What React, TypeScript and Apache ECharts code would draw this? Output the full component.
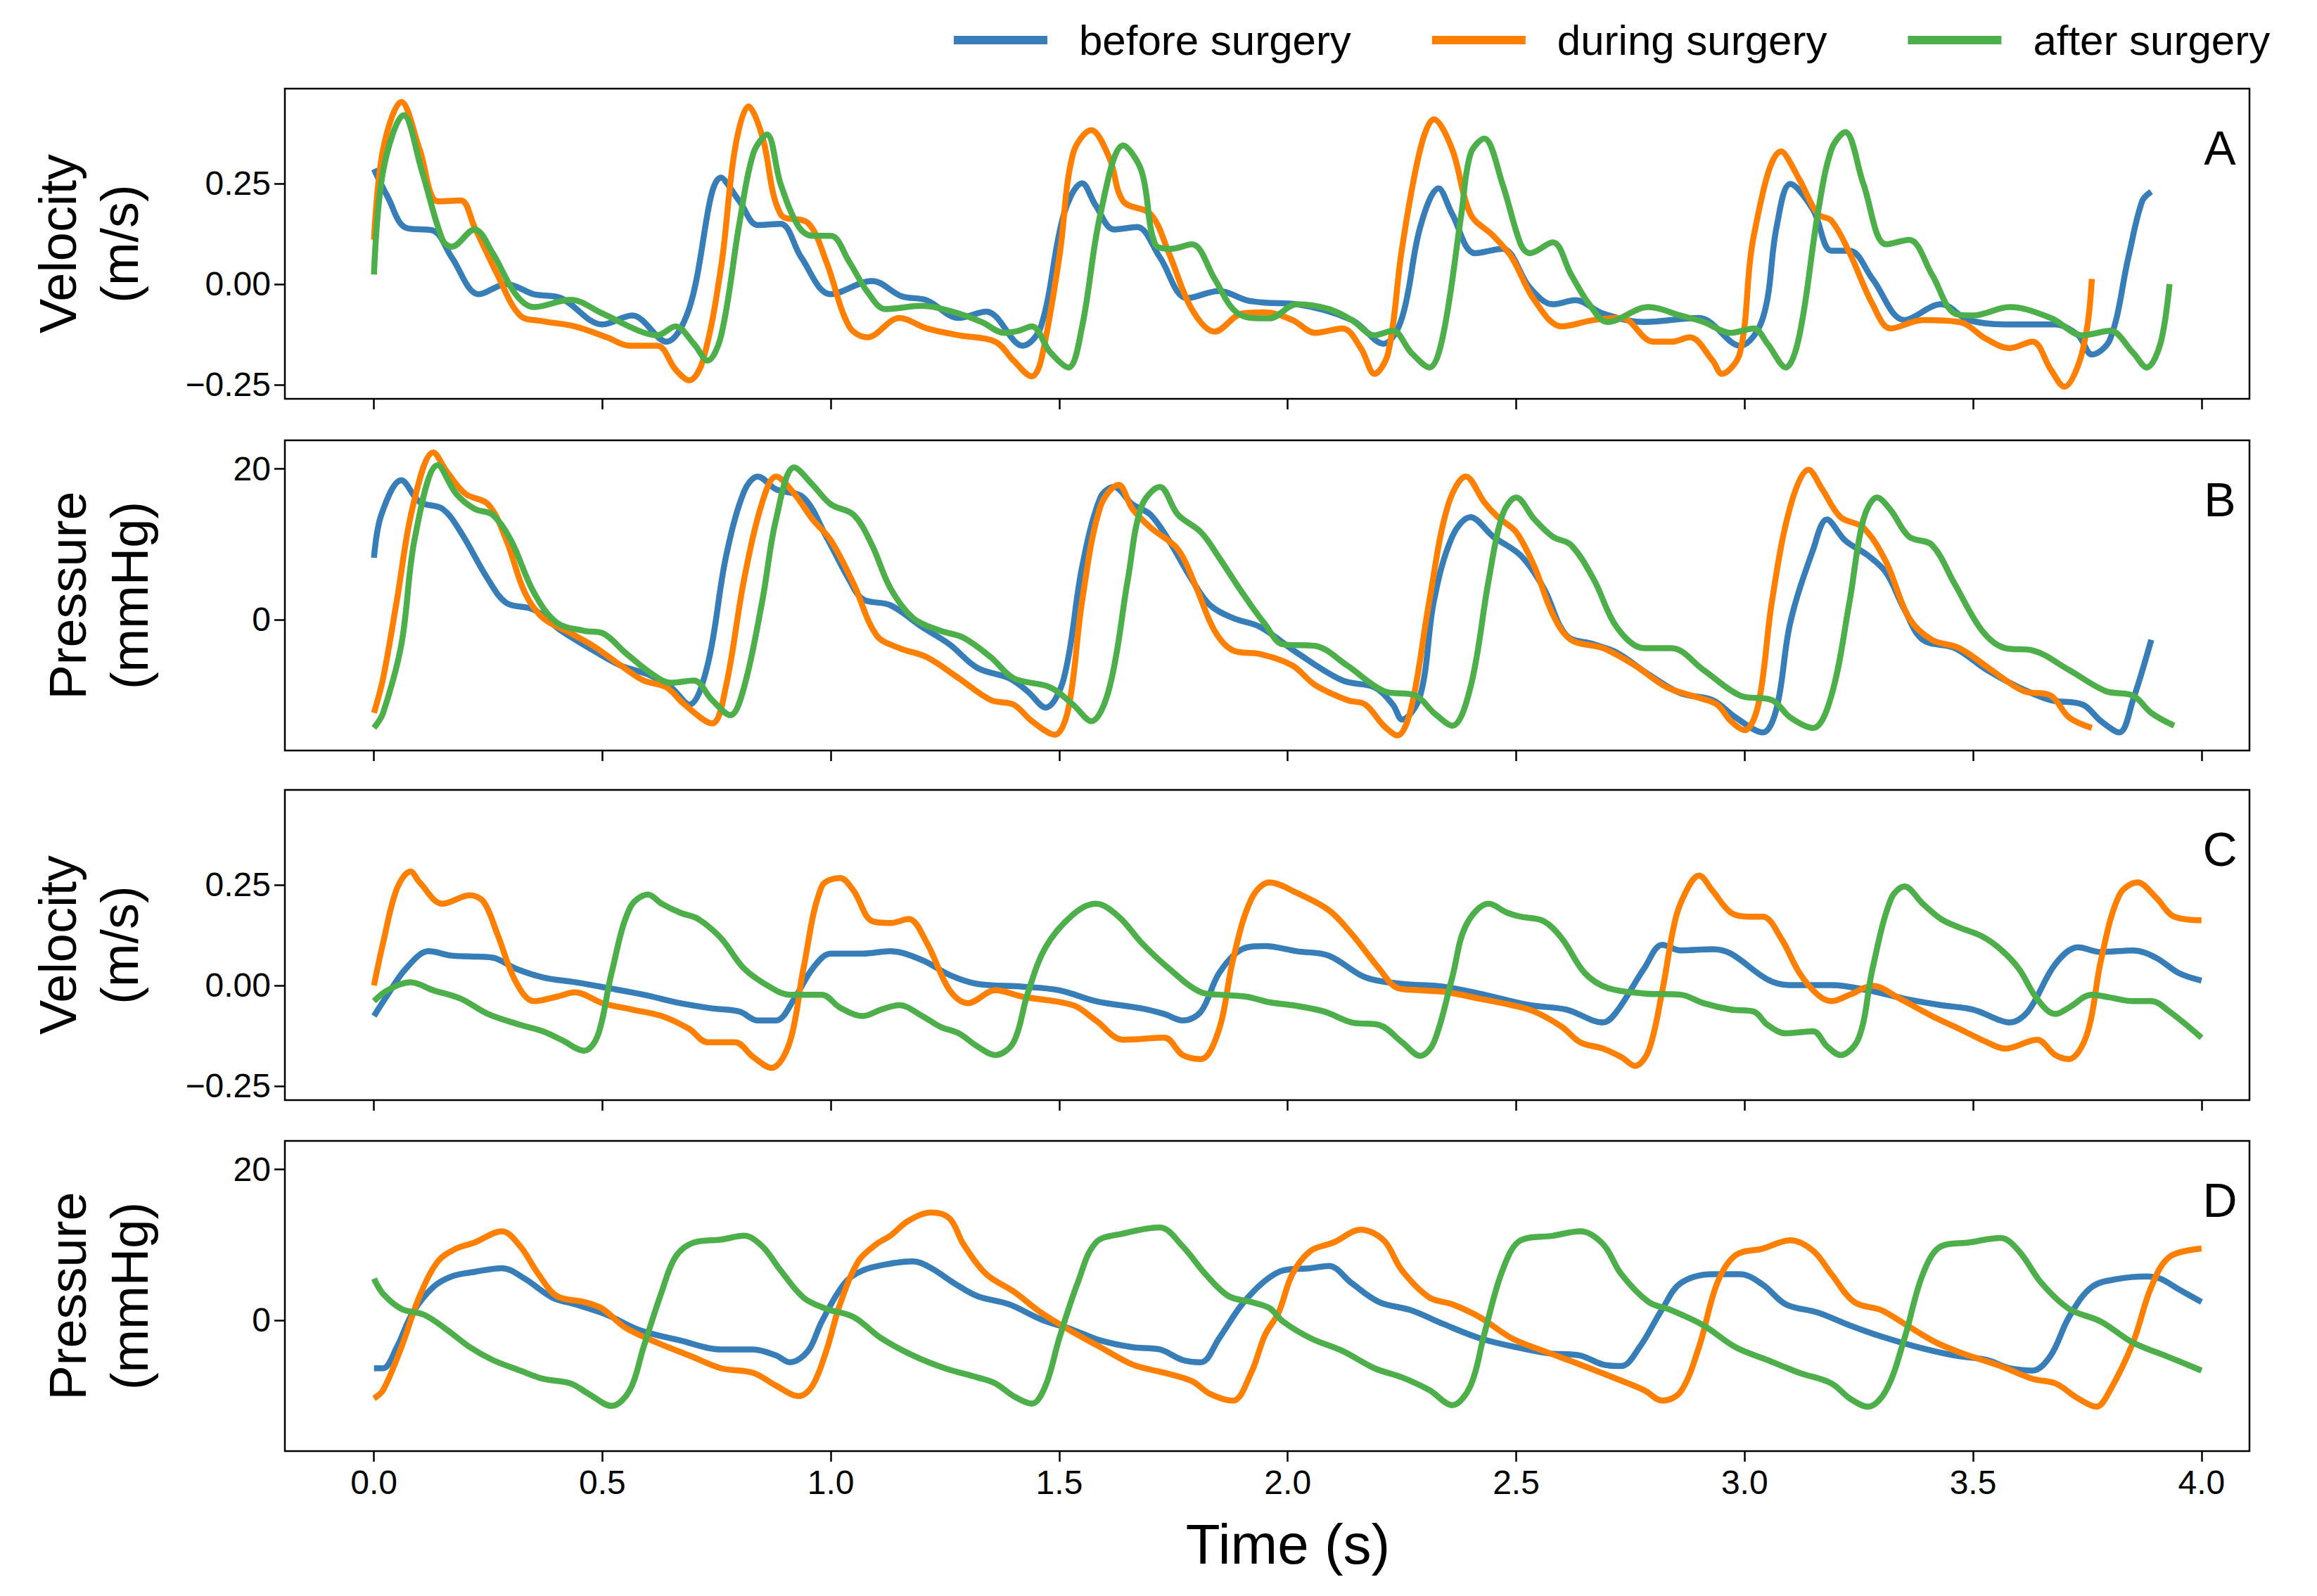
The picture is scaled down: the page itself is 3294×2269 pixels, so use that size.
import React, { useEffect, useRef } from "react";
import * as echarts from "echarts";

const seriesNames = ["before surgery", "during surgery", "after surgery"];
const colors = ["#377eb8", "#ff7f00", "#4daf4a"];
const panelLetters = ["A", "B", "C", "D"];
const xTicks = [0, 0.5, 1, 1.5, 2, 2.5, 3, 3.5, 4];
const velTicks = [-0.25, 0, 0.25];
const presTicks = [0, 20];

const aBefore = [[0,0.286],[0.03,0.217],[0.07,0.14],[0.13,0.133],[0.17,0.067],[0.23,-0.025],[0.29,0.0],[0.35,-0.025],[0.41,-0.035],[0.5,-0.1],[0.565,-0.078],[0.64,-0.143],[0.69,-0.06],[0.76,0.265],[0.8,0.206],[0.84,0.147],[0.89,0.15],[0.935,0.067],[1.0,-0.025],[1.09,0.008],[1.155,-0.03],[1.21,-0.04],[1.28,-0.084],[1.34,-0.068],[1.42,-0.153],[1.46,-0.105],[1.51,0.174],[1.55,0.251],[1.58,0.195],[1.62,0.136],[1.67,0.142],[1.72,0.067],[1.78,-0.035],[1.85,-0.017],[1.91,-0.04],[1.95,-0.046],[2.02,-0.05],[2.14,-0.089],[2.21,-0.148],[2.25,-0.084],[2.29,0.142],[2.33,0.238],[2.36,0.174],[2.41,0.077],[2.47,0.088],[2.53,-0.009],[2.58,-0.05],[2.63,-0.04],[2.69,-0.073],[2.78,-0.094],[2.9,-0.084],[2.99,-0.153],[3.04,-0.084],[3.07,0.142],[3.1,0.249],[3.15,0.185],[3.19,0.083],[3.23,0.083],[3.28,0.013],[3.35,-0.089],[3.43,-0.05],[3.49,-0.089],[3.57,-0.1],[3.68,-0.1],[3.73,-0.127],[3.76,-0.175],[3.8,-0.137],[3.84,0.067],[3.87,0.206],[3.89,0.23]];
const aDuring = [[0,0.11],[0.02,0.335],[0.06,0.453],[0.1,0.335],[0.14,0.206],[0.19,0.208],[0.22,0.142],[0.27,0.024],[0.32,-0.078],[0.37,-0.092],[0.44,-0.105],[0.51,-0.132],[0.56,-0.153],[0.62,-0.153],[0.66,-0.212],[0.69,-0.239],[0.72,-0.19],[0.76,0.045],[0.79,0.335],[0.82,0.442],[0.85,0.367],[0.89,0.174],[0.95,0.152],[0.99,0.056],[1.04,-0.105],[1.08,-0.132],[1.15,-0.084],[1.21,-0.11],[1.28,-0.127],[1.36,-0.143],[1.4,-0.19],[1.44,-0.229],[1.46,-0.19],[1.5,0.067],[1.53,0.324],[1.57,0.383],[1.61,0.313],[1.64,0.206],[1.7,0.174],[1.74,0.077],[1.79,-0.062],[1.84,-0.118],[1.9,-0.073],[1.95,-0.07],[2.01,-0.089],[2.06,-0.121],[2.12,-0.11],[2.16,-0.159],[2.19,-0.223],[2.22,-0.17],[2.25,0.088],[2.29,0.335],[2.32,0.41],[2.36,0.335],[2.4,0.174],[2.45,0.12],[2.49,0.067],[2.54,-0.04],[2.6,-0.105],[2.67,-0.089],[2.73,-0.084],[2.8,-0.143],[2.84,-0.143],[2.88,-0.132],[2.93,-0.19],[2.95,-0.223],[2.99,-0.17],[3.02,0.12],[3.08,0.33],[3.12,0.26],[3.16,0.174],[3.19,0.158],[3.23,0.077],[3.28,-0.05],[3.32,-0.11],[3.39,-0.089],[3.47,-0.094],[3.53,-0.137],[3.58,-0.159],[3.63,-0.143],[3.67,-0.212],[3.7,-0.255],[3.73,-0.202],[3.75,-0.105],[3.76,0.013]];
const aAfter = [[0,0.024],[0.02,0.281],[0.065,0.42],[0.105,0.281],[0.15,0.11],[0.17,0.093],[0.22,0.136],[0.26,0.077],[0.31,-0.025],[0.35,-0.057],[0.43,-0.039],[0.5,-0.073],[0.58,-0.116],[0.62,-0.127],[0.66,-0.105],[0.7,-0.148],[0.73,-0.19],[0.76,-0.127],[0.8,0.152],[0.83,0.324],[0.86,0.372],[0.89,0.249],[0.93,0.142],[0.96,0.12],[1.0,0.12],[1.04,0.056],[1.08,-0.019],[1.12,-0.062],[1.2,-0.054],[1.265,-0.068],[1.33,-0.094],[1.38,-0.121],[1.41,-0.116],[1.44,-0.105],[1.48,-0.169],[1.52,-0.207],[1.55,-0.105],[1.59,0.174],[1.64,0.345],[1.68,0.281],[1.71,0.099],[1.745,0.088],[1.79,0.099],[1.84,0.013],[1.88,-0.062],[1.92,-0.084],[1.96,-0.085],[2.02,-0.05],[2.09,-0.062],[2.14,-0.089],[2.19,-0.127],[2.23,-0.116],[2.27,-0.17],[2.31,-0.207],[2.34,-0.127],[2.38,0.174],[2.4,0.324],[2.43,0.362],[2.47,0.249],[2.51,0.099],[2.53,0.077],[2.58,0.104],[2.62,0.024],[2.66,-0.05],[2.7,-0.094],[2.79,-0.057],[2.86,-0.078],[2.91,-0.094],[2.97,-0.121],[3.02,-0.11],[3.05,-0.148],[3.09,-0.207],[3.12,-0.127],[3.16,0.174],[3.19,0.335],[3.22,0.378],[3.26,0.249],[3.31,0.099],[3.36,0.11],[3.41,0.024],[3.46,-0.073],[3.5,-0.078],[3.58,-0.057],[3.67,-0.084],[3.74,-0.127],[3.8,-0.116],[3.85,-0.17],[3.88,-0.207],[3.91,-0.148],[3.93,0.0]];

const bBefore = [[0,8.2],[0.016,13.9],[0.06,18.5],[0.1,15.6],[0.15,14.7],[0.19,11.6],[0.25,5.3],[0.29,2.2],[0.35,1.3],[0.41,-1.5],[0.48,-4.1],[0.54,-6.1],[0.6,-7.3],[0.65,-9.0],[0.69,-11.3],[0.73,-6.1],[0.77,8.2],[0.81,17.0],[0.84,19.0],[0.88,17.3],[0.94,16.2],[0.99,11.0],[1.04,5.3],[1.07,2.7],[1.13,1.9],[1.2,-1.0],[1.26,-3.3],[1.32,-6.4],[1.39,-7.8],[1.43,-9.5],[1.47,-11.7],[1.51,-7.8],[1.55,7.0],[1.59,16.2],[1.62,17.6],[1.66,15.3],[1.7,13.9],[1.74,10.5],[1.79,5.3],[1.83,1.9],[1.88,0.2],[1.94,-1.0],[2.02,-4.4],[2.12,-8.1],[2.19,-9.0],[2.23,-11.3],[2.25,-13.3],[2.29,-10.1],[2.32,2.5],[2.36,11.0],[2.4,13.6],[2.45,11.0],[2.51,8.5],[2.56,4.2],[2.61,-2.1],[2.67,-3.3],[2.72,-4.4],[2.79,-7.3],[2.86,-9.8],[2.93,-10.7],[2.98,-13.0],[3.04,-15.0],[3.07,-11.8],[3.1,-0.4],[3.15,9.3],[3.18,13.3],[3.22,10.5],[3.27,8.5],[3.31,6.2],[3.35,1.3],[3.39,-2.7],[3.46,-3.8],[3.53,-6.7],[3.6,-9.0],[3.67,-10.7],[3.74,-11.3],[3.78,-13.5],[3.82,-15.0],[3.85,-10.7],[3.89,-2.7]];
const bDuring = [[0,-12.4],[0.02,-7.8],[0.05,2.5],[0.085,15.0],[0.13,22.2],[0.16,19.6],[0.2,16.7],[0.25,15.3],[0.29,10.5],[0.33,3.6],[0.37,0.2],[0.43,-1.8],[0.48,-3.5],[0.54,-6.1],[0.59,-8.1],[0.64,-9.0],[0.68,-11.3],[0.74,-13.8],[0.77,-9.0],[0.81,5.3],[0.85,15.6],[0.88,19.0],[0.92,16.7],[0.96,13.3],[1.0,10.5],[1.05,4.7],[1.1,-2.1],[1.15,-3.8],[1.21,-5.0],[1.28,-7.8],[1.35,-10.7],[1.4,-11.3],[1.44,-13.5],[1.49,-15.3],[1.52,-11.8],[1.55,2.5],[1.59,15.0],[1.63,17.9],[1.66,14.7],[1.7,12.2],[1.76,9.3],[1.8,4.2],[1.84,-1.5],[1.88,-4.1],[1.94,-4.6],[2.01,-6.1],[2.06,-8.7],[2.13,-10.7],[2.17,-11.3],[2.21,-14.1],[2.24,-15.4],[2.27,-11.8],[2.31,2.5],[2.35,15.0],[2.39,19.0],[2.43,15.6],[2.46,13.6],[2.5,11.6],[2.54,7.0],[2.58,0.7],[2.62,-2.7],[2.69,-3.8],[2.76,-6.1],[2.83,-9.0],[2.9,-10.4],[2.94,-11.3],[2.97,-13.5],[3.0,-14.7],[3.03,-11.3],[3.06,2.5],[3.1,15.0],[3.14,19.9],[3.17,17.3],[3.21,13.6],[3.26,12.2],[3.31,7.6],[3.36,0.2],[3.41,-2.7],[3.47,-3.8],[3.54,-6.7],[3.61,-9.5],[3.67,-10.1],[3.71,-13.0],[3.76,-14.4]];
const bAfter = [[0,-14.4],[0.02,-12.4],[0.06,-3.3],[0.09,11.0],[0.14,20.5],[0.18,16.7],[0.22,14.7],[0.26,13.9],[0.3,10.5],[0.35,3.6],[0.4,-0.4],[0.46,-1.5],[0.5,-1.8],[0.55,-4.4],[0.61,-7.3],[0.65,-8.4],[0.7,-8.1],[0.74,-10.7],[0.78,-12.7],[0.81,-9.0],[0.85,2.5],[0.88,13.3],[0.92,20.2],[0.96,17.9],[1.0,15.3],[1.05,13.9],[1.09,9.9],[1.13,4.2],[1.18,0.2],[1.24,-1.5],[1.29,-2.4],[1.35,-5.0],[1.4,-7.8],[1.48,-9.0],[1.53,-11.3],[1.57,-13.5],[1.61,-9.0],[1.65,5.3],[1.68,15.0],[1.72,17.6],[1.76,13.9],[1.81,11.6],[1.85,8.2],[1.9,3.6],[1.95,-0.6],[1.99,-3.3],[2.06,-3.5],[2.13,-6.1],[2.21,-9.5],[2.28,-10.1],[2.32,-12.4],[2.36,-14.1],[2.4,-9.0],[2.44,5.3],[2.47,13.9],[2.5,16.2],[2.54,13.3],[2.58,11.0],[2.62,9.9],[2.67,5.3],[2.72,-1.0],[2.78,-3.8],[2.84,-3.8],[2.91,-6.7],[2.99,-10.1],[3.06,-10.7],[3.1,-13.0],[3.15,-14.4],[3.19,-10.1],[3.23,2.5],[3.26,13.3],[3.29,16.2],[3.32,14.5],[3.36,11.0],[3.41,9.9],[3.46,4.7],[3.52,-1.5],[3.57,-3.8],[3.63,-4.1],[3.71,-6.7],[3.79,-9.5],[3.85,-10.1],[3.89,-12.4],[3.94,-14.1]];

const cBefore = [[0,-0.076],[0.03,-0.023],[0.07,0.042],[0.12,0.085],[0.17,0.074],[0.21,0.072],[0.26,0.069],[0.31,0.042],[0.37,0.02],[0.44,0.008],[0.51,-0.006],[0.59,-0.023],[0.67,-0.044],[0.74,-0.057],[0.8,-0.065],[0.84,-0.087],[0.88,-0.087],[0.92,-0.033],[0.96,0.042],[1.0,0.079],[1.07,0.079],[1.13,0.085],[1.2,0.063],[1.26,0.026],[1.32,0.004],[1.42,-0.003],[1.5,-0.012],[1.58,-0.039],[1.68,-0.057],[1.73,-0.071],[1.77,-0.087],[1.81,-0.065],[1.85,0.031],[1.9,0.09],[1.95,0.098],[2.02,0.085],[2.09,0.074],[2.17,0.02],[2.25,0.004],[2.34,-0.003],[2.43,-0.023],[2.53,-0.049],[2.61,-0.06],[2.69,-0.092],[2.72,-0.065],[2.78,0.042],[2.82,0.101],[2.86,0.087],[2.93,0.09],[2.97,0.079],[3.05,0.015],[3.1,0.001],[3.19,0.001],[3.27,-0.012],[3.35,-0.033],[3.43,-0.049],[3.5,-0.06],[3.56,-0.087],[3.58,-0.092],[3.62,-0.065],[3.68,0.053],[3.73,0.095],[3.78,0.083],[3.85,0.087],[3.9,0.069],[3.95,0.031],[4.0,0.012]];
const cDuring = [[0,0.0],[0.02,0.106],[0.05,0.24],[0.08,0.283],[0.1,0.256],[0.15,0.203],[0.21,0.224],[0.24,0.208],[0.27,0.128],[0.31,0.01],[0.35,-0.039],[0.4,-0.028],[0.44,-0.017],[0.5,-0.044],[0.565,-0.06],[0.63,-0.076],[0.69,-0.108],[0.73,-0.141],[0.79,-0.141],[0.83,-0.178],[0.87,-0.205],[0.91,-0.141],[0.94,0.042],[0.98,0.246],[1.02,0.267],[1.05,0.235],[1.09,0.16],[1.13,0.155],[1.17,0.165],[1.21,0.106],[1.26,-0.012],[1.3,-0.044],[1.36,-0.012],[1.42,-0.028],[1.53,-0.049],[1.58,-0.087],[1.64,-0.135],[1.73,-0.13],[1.77,-0.173],[1.81,-0.183],[1.85,-0.108],[1.88,0.063],[1.92,0.214],[1.96,0.256],[2.02,0.23],[2.09,0.187],[2.14,0.128],[2.2,0.042],[2.24,-0.006],[2.29,-0.012],[2.35,-0.017],[2.42,-0.033],[2.49,-0.049],[2.54,-0.065],[2.6,-0.103],[2.64,-0.141],[2.69,-0.157],[2.73,-0.178],[2.76,-0.2],[2.79,-0.162],[2.82,-0.012],[2.85,0.171],[2.88,0.251],[2.9,0.273],[2.93,0.235],[2.97,0.181],[3.01,0.171],[3.04,0.171],[3.08,0.117],[3.12,0.031],[3.16,-0.023],[3.19,-0.039],[3.23,-0.023],[3.28,-0.001],[3.34,-0.033],[3.41,-0.076],[3.47,-0.108],[3.53,-0.141],[3.57,-0.157],[3.64,-0.135],[3.68,-0.173],[3.71,-0.183],[3.75,-0.119],[3.78,0.063],[3.82,0.224],[3.86,0.256],[3.9,0.219],[3.94,0.171],[4.0,0.162]];
const cAfter = [[0,-0.039],[0.03,-0.012],[0.08,0.008],[0.13,-0.012],[0.19,-0.033],[0.25,-0.071],[0.32,-0.098],[0.37,-0.114],[0.41,-0.135],[0.46,-0.162],[0.49,-0.124],[0.52,0.031],[0.56,0.192],[0.6,0.226],[0.63,0.203],[0.67,0.181],[0.71,0.165],[0.76,0.117],[0.81,0.042],[0.87,-0.006],[0.91,-0.023],[0.98,-0.023],[1.02,-0.055],[1.07,-0.076],[1.11,-0.06],[1.15,-0.049],[1.2,-0.076],[1.24,-0.103],[1.28,-0.119],[1.32,-0.151],[1.36,-0.173],[1.4,-0.141],[1.43,-0.023],[1.47,0.095],[1.53,0.176],[1.58,0.203],[1.63,0.171],[1.68,0.106],[1.74,0.042],[1.81,-0.017],[1.85,-0.023],[1.91,-0.028],[1.96,-0.042],[2.01,-0.049],[2.08,-0.065],[2.14,-0.092],[2.2,-0.098],[2.25,-0.141],[2.29,-0.175],[2.32,-0.141],[2.36,0.02],[2.39,0.149],[2.44,0.203],[2.48,0.181],[2.51,0.171],[2.56,0.16],[2.6,0.117],[2.65,0.031],[2.7,-0.006],[2.78,-0.02],[2.86,-0.023],[2.91,-0.044],[2.97,-0.06],[3.02,-0.065],[3.05,-0.098],[3.09,-0.119],[3.15,-0.114],[3.18,-0.151],[3.21,-0.173],[3.25,-0.13],[3.28,0.042],[3.32,0.214],[3.35,0.246],[3.39,0.203],[3.43,0.165],[3.47,0.144],[3.52,0.122],[3.56,0.09],[3.6,0.042],[3.64,-0.033],[3.68,-0.071],[3.71,-0.055],[3.76,-0.023],[3.8,-0.03],[3.85,-0.039],[3.89,-0.039],[3.93,-0.065],[4.0,-0.13]];

const dBefore = [[0,-6.4],[0.02,-6.4],[0.05,-3.6],[0.085,1.0],[0.13,4.4],[0.17,5.8],[0.22,6.4],[0.28,6.9],[0.33,5.5],[0.39,3.0],[0.44,2.1],[0.51,0.7],[0.58,-1.3],[0.67,-2.7],[0.76,-3.9],[0.83,-3.9],[0.88,-4.7],[0.91,-5.6],[0.95,-4.1],[0.98,-0.2],[1.03,4.9],[1.07,6.6],[1.13,7.5],[1.18,7.8],[1.22,6.9],[1.27,4.9],[1.32,3.2],[1.39,2.1],[1.46,0.1],[1.53,-1.3],[1.59,-2.7],[1.66,-3.6],[1.72,-3.9],[1.77,-5.3],[1.81,-5.6],[1.85,-2.4],[1.9,2.1],[1.95,5.2],[1.99,6.6],[2.05,6.9],[2.09,7.2],[2.14,4.9],[2.2,2.4],[2.27,1.3],[2.34,-0.5],[2.42,-2.4],[2.5,-3.6],[2.57,-4.4],[2.64,-4.7],[2.69,-5.9],[2.73,-6.1],[2.77,-3.6],[2.82,1.5],[2.86,4.9],[2.93,6.1],[2.99,6.1],[3.04,4.7],[3.09,2.1],[3.16,1.0],[3.23,-0.7],[3.3,-2.2],[3.38,-3.6],[3.46,-4.7],[3.53,-5.3],[3.58,-6.4],[3.63,-6.7],[3.67,-4.7],[3.71,0.4],[3.76,4.4],[3.82,5.5],[3.88,5.8],[3.91,5.5],[3.95,4.1],[4.0,2.4]];
const dDuring = [[0,-10.4],[0.02,-9.3],[0.06,-3.6],[0.1,3.2],[0.14,7.8],[0.18,9.5],[0.22,10.3],[0.28,11.8],[0.32,9.8],[0.36,6.1],[0.4,3.2],[0.46,2.4],[0.5,1.5],[0.55,-1.0],[0.62,-3.0],[0.69,-4.7],[0.76,-6.4],[0.83,-7.0],[0.88,-8.7],[0.93,-10.1],[0.96,-8.7],[0.99,-4.1],[1.02,2.1],[1.06,7.8],[1.1,10.1],[1.13,11.2],[1.17,13.2],[1.22,14.3],[1.26,13.5],[1.29,10.1],[1.34,6.1],[1.4,3.8],[1.46,1.0],[1.53,-1.6],[1.59,-3.6],[1.66,-5.9],[1.73,-7.0],[1.79,-8.1],[1.83,-9.8],[1.88,-10.7],[1.92,-7.0],[1.95,-2.0],[1.98,1.0],[2.01,6.1],[2.05,9.2],[2.1,10.3],[2.16,12.0],[2.21,10.6],[2.25,6.6],[2.31,3.0],[2.36,2.1],[2.42,0.4],[2.49,-2.4],[2.56,-4.1],[2.64,-5.9],[2.72,-7.8],[2.78,-9.3],[2.82,-10.7],[2.86,-9.5],[2.9,-3.6],[2.94,4.9],[2.98,8.6],[3.04,9.5],[3.1,10.6],[3.15,9.2],[3.19,6.1],[3.24,2.4],[3.3,1.3],[3.35,-0.5],[3.42,-3.0],[3.49,-4.7],[3.56,-6.1],[3.63,-7.8],[3.68,-8.4],[3.73,-10.4],[3.77,-11.5],[3.8,-9.3],[3.85,-3.0],[3.89,4.4],[3.93,8.4],[4.0,9.5]];
const dAfter = [[0,5.5],[0.02,3.5],[0.06,1.5],[0.11,0.7],[0.16,-1.3],[0.21,-3.6],[0.26,-5.3],[0.32,-6.7],[0.37,-7.8],[0.43,-8.4],[0.47,-9.8],[0.52,-11.4],[0.56,-9.3],[0.59,-3.6],[0.63,3.8],[0.66,8.4],[0.7,10.3],[0.76,10.7],[0.81,11.2],[0.85,9.8],[0.89,6.6],[0.94,3.0],[0.99,1.5],[1.05,0.4],[1.11,-2.4],[1.18,-4.7],[1.25,-6.4],[1.32,-7.6],[1.36,-8.4],[1.4,-10.1],[1.44,-11.1],[1.47,-8.7],[1.5,-2.4],[1.54,4.9],[1.58,10.3],[1.64,11.5],[1.72,12.3],[1.77,9.8],[1.82,6.1],[1.87,3.2],[1.92,2.4],[1.96,1.6],[1.99,-0.2],[2.05,-2.4],[2.12,-4.1],[2.19,-6.4],[2.25,-7.6],[2.31,-9.3],[2.36,-11.3],[2.4,-8.7],[2.43,-1.9],[2.47,6.6],[2.51,10.6],[2.58,11.2],[2.64,11.8],[2.69,10.1],[2.73,6.1],[2.79,2.4],[2.84,1.3],[2.91,-0.7],[2.98,-3.6],[3.05,-5.3],[3.12,-7.0],[3.19,-8.4],[3.23,-10.4],[3.27,-11.5],[3.31,-9.3],[3.35,-2.4],[3.39,6.1],[3.43,9.8],[3.49,10.3],[3.56,10.9],[3.6,9.2],[3.65,4.9],[3.71,1.5],[3.78,-0.2],[3.85,-3.0],[3.92,-4.7],[4.0,-6.7]];

const panels = [
  { data: [aBefore, aDuring, aAfter], kind: "vel" },
  { data: [bBefore, bDuring, bAfter], kind: "pres" },
  { data: [cBefore, cDuring, cAfter], kind: "vel" },
  { data: [dBefore, dDuring, dAfter], kind: "pres" },
];

const FONT = "Liberation Sans, Arial, sans-serif";

export default function App() {
  const ref = useRef<HTMLDivElement>(null);
  useEffect(() => {
    const chart = echarts.init(ref.current!, null, { renderer: "svg" });
    const tops = [126, 626, 1123, 1622];
    const H = 441;
    const grid: any[] = [];
    const xAxis: any[] = [];
    const yAxis: any[] = [];
    const series: any[] = [];
    const graphic: any[] = [];
    panels.forEach((p, i) => {
      grid.push({ left: 405, width: 2793, top: tops[i], height: H, show: true, borderColor: "#000", borderWidth: 2.5, backgroundColor: "transparent" });
      xAxis.push({
        type: "value", gridIndex: i, min: -0.195, max: 4.105, position: "bottom",
        axisLine: { show: false, onZero: false },
        axisTick: { show: true, customValues: xTicks, length: 15, lineStyle: { color: "#000", width: 2.5 } },
        axisLabel: { show: i === 3, customValues: xTicks, formatter: (v: number) => v.toFixed(1), fontSize: 48, color: "#000", fontFamily: FONT, margin: 20 },
        splitLine: { show: false },
      });
      const vel = p.kind === "vel";
      yAxis.push({
        type: "value", gridIndex: i, position: "left",
        min: vel ? -0.285 : -17.4, max: vel ? 0.486 : 23.8,
        axisLine: { show: false, onZero: false },
        axisTick: { show: true, customValues: vel ? velTicks : presTicks, length: 15, lineStyle: { color: "#000", width: 2.5 } },
        axisLabel: { customValues: vel ? velTicks : presTicks, formatter: (v: number) => (vel ? v.toFixed(2) : String(v)).replace("-", "\u2212"), fontSize: 48, color: "#000", fontFamily: FONT, margin: 20 },
        splitLine: { show: false },
      });
      p.data.forEach((d, k) => {
        series.push({
          name: seriesNames[k], type: "line", xAxisIndex: i, yAxisIndex: i, data: d,
          showSymbol: false, smooth: 0.35, lineStyle: { width: 8.5, color: colors[k] }, itemStyle: { color: colors[k] },
        });
      });
      graphic.push({ type: "text", x: 3156, y: tops[i] + 84, style: { text: panelLetters[i], fontSize: 68, fontFamily: FONT, fill: "#000", textAlign: "center", textVerticalAlign: "middle" } });
      graphic.push({
        type: "text", x: vel ? 126 : 140, y: tops[i] + H / 2, rotation: Math.PI / 2,
        style: { text: vel ? "Velocity\n(m/s)" : "Pressure\n(mmHg)", fontSize: 74, lineHeight: 88, fontFamily: FONT, fill: "#000", textAlign: "center", textVerticalAlign: "middle" },
      });
    });
    graphic.push({ type: "text", x: 1831, y: 2195, style: { text: "Time (s)", fontSize: 80, fontFamily: FONT, fill: "#000", textAlign: "center", textVerticalAlign: "middle" } });
    chart.setOption({
      animation: false,
      backgroundColor: "#fff",
      grid, xAxis, yAxis, series, graphic,
      legend: {
        data: seriesNames, top: 22, left: 1351, icon: "rect", itemWidth: 133, itemHeight: 12, itemGap: 115,
        textStyle: { fontSize: 60, fontFamily: FONT, color: "#000", padding: [0, 0, 0, 40] },
      },
    });
    return () => chart.dispose();
  }, []);
  return <div ref={ref} style={{ position: "absolute", left: 0, top: 0, width: 3294, height: 2269 }} />;
}
